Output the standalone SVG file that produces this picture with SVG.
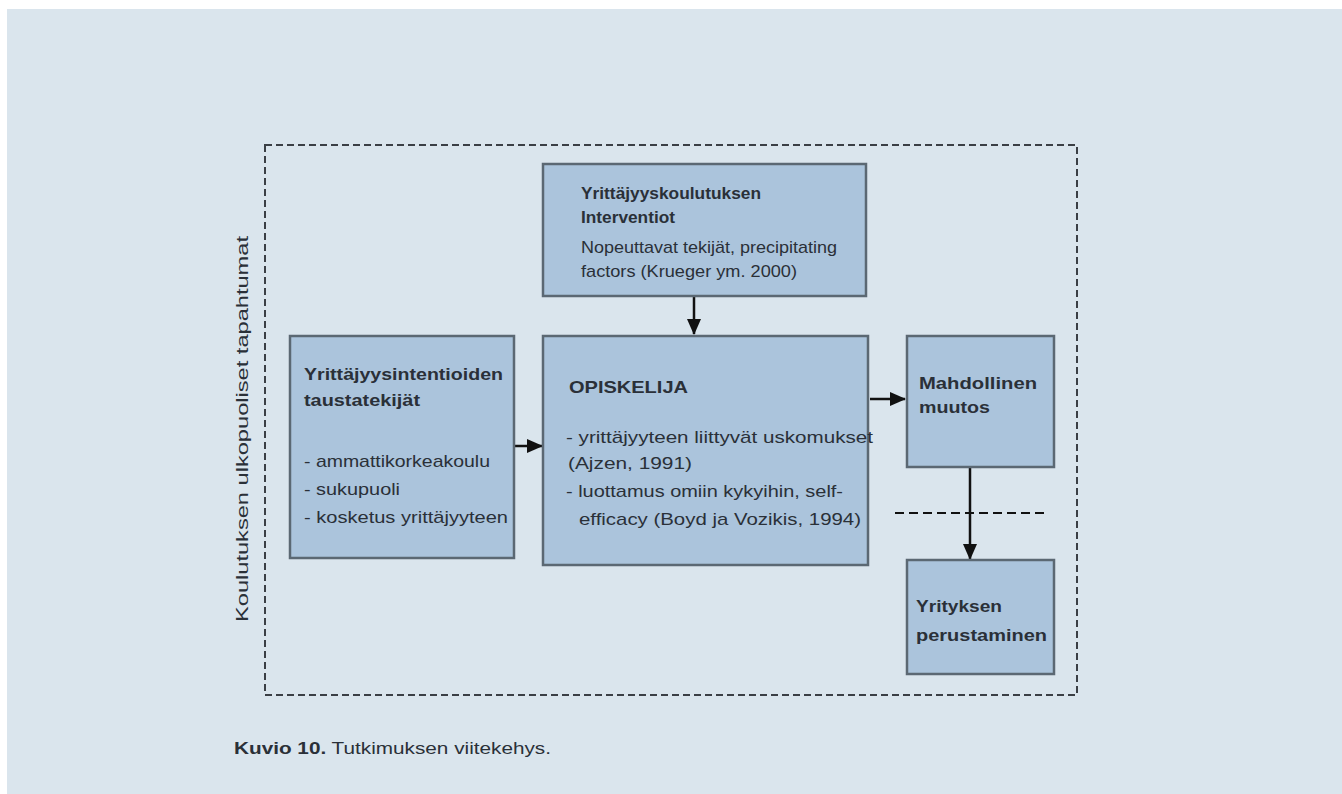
<svg xmlns="http://www.w3.org/2000/svg" width="1342" height="794" viewBox="0 0 1342 794">
<defs>
<style>
.box{fill:#abc4dc;stroke:#5b6873;stroke-width:2.5}
.t{font-family:"Liberation Sans",Arial,sans-serif;font-size:17px;fill:#2a3038}
.b{font-weight:bold}
.con{stroke:#111;stroke-width:2.5;fill:none}
</style>
<marker id="ahb" markerWidth="16" markerHeight="16" refX="15" refY="8" orient="auto" markerUnits="userSpaceOnUse" viewBox="0 0 16 16">
<path d="M0,1 L16,8 L0,15 z" fill="#111"/>
</marker>
</defs>
<rect x="0" y="0" width="1342" height="794" fill="#ffffff"/>
<rect x="7" y="9" width="1335" height="785" fill="#dae5ed"/>
<rect id="frame" x="265" y="145" width="812" height="550" fill="none" stroke="#3a3f45" stroke-width="2" stroke-dasharray="7,4"/>
<text class="t" x="0" y="0" transform="translate(248,622) rotate(-90)" font-size="20" textLength="386" lengthAdjust="spacingAndGlyphs">Koulutuksen ulkopuoliset tapahtumat</text>
<line x1="895" y1="513" x2="1047" y2="513" stroke="#111" stroke-width="2" stroke-dasharray="9,5"/>
<g id="connectors">
<line class="con" x1="694" y1="297" x2="694" y2="334" marker-end="url(#ahb)"/>
<line class="con" x1="514" y1="446" x2="542" y2="446" marker-end="url(#ahb)"/>
<line class="con" x1="870" y1="399" x2="905" y2="399" marker-end="url(#ahb)"/>
<line class="con" x1="970" y1="468" x2="970" y2="559" marker-end="url(#ahb)"/>
</g>
<g id="top">
<rect class="box" x="543" y="164" width="323" height="132"/>
<text class="t b" x="581" y="199" textLength="180" lengthAdjust="spacingAndGlyphs">Yrittäjyyskoulutuksen</text>
<text class="t b" x="581" y="223" textLength="94" lengthAdjust="spacingAndGlyphs">Interventiot</text>
<text class="t" x="581" y="253" textLength="256" lengthAdjust="spacingAndGlyphs">Nopeuttavat tekijät, precipitating</text>
<text class="t" x="581" y="277" textLength="216" lengthAdjust="spacingAndGlyphs">factors (Krueger ym. 2000)</text>
</g>
<g id="left">
<rect class="box" x="290" y="336" width="224" height="222"/>
<text class="t b" x="304" y="380" textLength="199" lengthAdjust="spacingAndGlyphs">Yrittäjyysintentioiden</text>
<text class="t b" x="304" y="406" textLength="116" lengthAdjust="spacingAndGlyphs">taustatekijät</text>
<text class="t" x="304" y="467" textLength="186" lengthAdjust="spacingAndGlyphs">- ammattikorkeakoulu</text>
<text class="t" x="304" y="495" textLength="96" lengthAdjust="spacingAndGlyphs">- sukupuoli</text>
<text class="t" x="304" y="523" textLength="204" lengthAdjust="spacingAndGlyphs">- kosketus yrittäjyyteen</text>
</g>
<g id="middle">
<rect class="box" x="543" y="336" width="325" height="229"/>
<text class="t b" x="569" y="393" textLength="119" lengthAdjust="spacingAndGlyphs">OPISKELIJA</text>
<text class="t" x="566" y="443" textLength="307" lengthAdjust="spacingAndGlyphs">- yrittäjyyteen liittyvät uskomukset</text>
<text class="t" x="568" y="469" textLength="124" lengthAdjust="spacingAndGlyphs">(Ajzen, 1991)</text>
<text class="t" x="566" y="497" textLength="277" lengthAdjust="spacingAndGlyphs">- luottamus omiin kykyihin, self-</text>
<text class="t" x="579" y="525" textLength="282" lengthAdjust="spacingAndGlyphs">efficacy (Boyd ja Vozikis, 1994)</text>
</g>
<g id="muutos">
<rect class="box" x="907" y="336" width="147" height="131"/>
<text class="t b" x="919" y="389" textLength="118" lengthAdjust="spacingAndGlyphs">Mahdollinen</text>
<text class="t b" x="919" y="413" textLength="71" lengthAdjust="spacingAndGlyphs">muutos</text>
</g>
<g id="yritys">
<rect class="box" x="907" y="560" width="147" height="114"/>
<text class="t b" x="916" y="612" textLength="86" lengthAdjust="spacingAndGlyphs">Yrityksen</text>
<text class="t b" x="916" y="641" textLength="131" lengthAdjust="spacingAndGlyphs">perustaminen</text>
</g>
<text class="t" x="234" y="754" font-size="16" textLength="317" lengthAdjust="spacingAndGlyphs"><tspan font-weight="bold">Kuvio 10.</tspan> Tutkimuksen viitekehys.</text>
</svg>
